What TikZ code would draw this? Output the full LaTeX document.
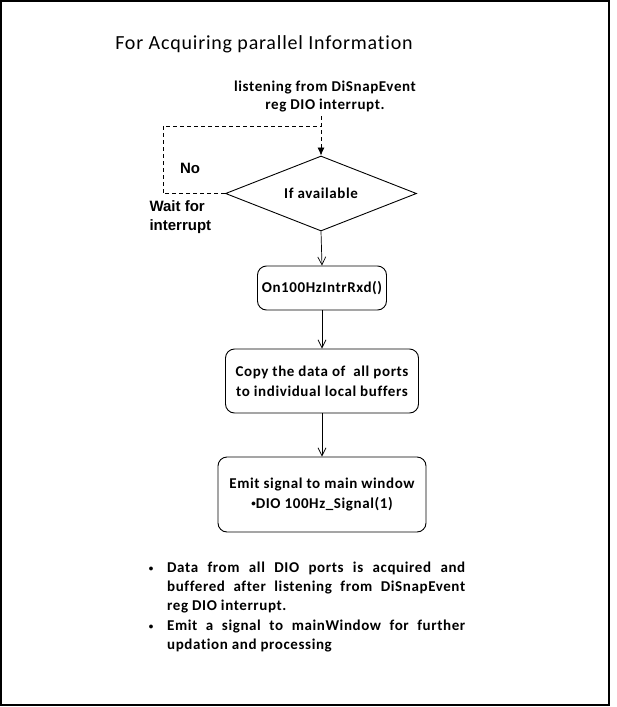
\documentclass[tikz,border=0pt]{standalone}
\usepackage{fontspec}
\setmainfont{Carlito}[Ligatures=NoCommon, LetterSpace=4]
\newfontfamily\arialfont{Liberation Sans}
\usetikzlibrary{shapes.geometric, arrows.meta, positioning}

\begin{document}
\begin{tikzpicture}[x=1pt, y=-1pt,
    block/.style={rectangle, draw, rounded corners=9pt, line width=0.9pt, align=center, font=\bfseries\fontsize{15}{20}\selectfont},
    decision/.style={diamond, draw, aspect=2.55, line width=0.9pt, minimum width=191pt, minimum height=75pt, inner sep=0pt, font=\bfseries\fontsize{15}{18}\selectfont},
    label/.style={font=\arialfont\bfseries\fontsize{15}{19}\selectfont, align=left},
    note/.style={text width=298pt, align=justify, inner sep=0pt, font=\bfseries\fontsize{15}{19.3}\selectfont},
    arrow/.style={-{Straight Barb[length=8pt, width=8pt]}, line width=0.7pt},
    dasharrow/.style={-{Latex[length=8pt, width=7pt]}, line width=0.8pt, dash pattern=on 4pt off 3pt}
]
\useasboundingbox (0,0) rectangle (616,707);
\draw[line width=1.5pt] (1,1) rectangle (609,705);

\node[font=\fontsize{20}{24}\selectfont] (title) at (264,44) {For Acquiring parallel Information};
\node[font=\bfseries\fontsize{15}{18}\selectfont, align=center] (listen) at (325,97) {listening from DiSnapEvent\\reg DIO interrupt.};

\node[decision] (avail) at (321,193.5) {If available};
\node[label] (no) at (190,168) {No};
\node[label, anchor=west] (wait) at (146,217) {Wait for\\interrupt};

\node[block, minimum width=129pt, minimum height=44pt] (rxd) at (322,288) {On100HzIntrRxd()};
\node[block, minimum width=193pt, minimum height=64pt] (copy) at (322,381) {Copy the data of\ \ all ports\\to individual local buffers};
\node[block, minimum width=208pt, minimum height=75pt] (emit) at (322,494.5) {Emit signal to main window\\\raisebox{1.5pt}{\small\textbullet}DIO 100Hz\_Signal(1)};

\node[note, anchor=base west] (note1) at (167,572) {Data from all DIO ports is acquired and\linebreak buffered after listening from DiSnapEvent\linebreak reg DIO interrupt.};
\node[note, anchor=base west] (note2) at (167,630) {Emit a signal to mainWindow for further\linebreak updation and processing};
\node[font=\bfseries\small, left=10pt of note1.base west, anchor=base east, yshift=1pt] (dot1) {\textbullet};
\node[font=\bfseries\small, left=10pt of note2.base west, anchor=base east, yshift=1pt] (dot2) {\textbullet};

\coordinate (split) at (321,126);
\coordinate (loop) at (163,126);
\draw[dasharrow] (avail.north |- listen.south) -- (avail.north);
\draw[line width=0.8pt, dash pattern=on 4pt off 3pt] (avail.west) -- (avail.west -| loop) -- (loop) -- (split);

\draw[arrow] (avail.south) -- (rxd.north);
\draw[arrow] (rxd) -- (copy);
\draw[arrow] (copy) -- (emit);

\end{tikzpicture}
\end{document}
